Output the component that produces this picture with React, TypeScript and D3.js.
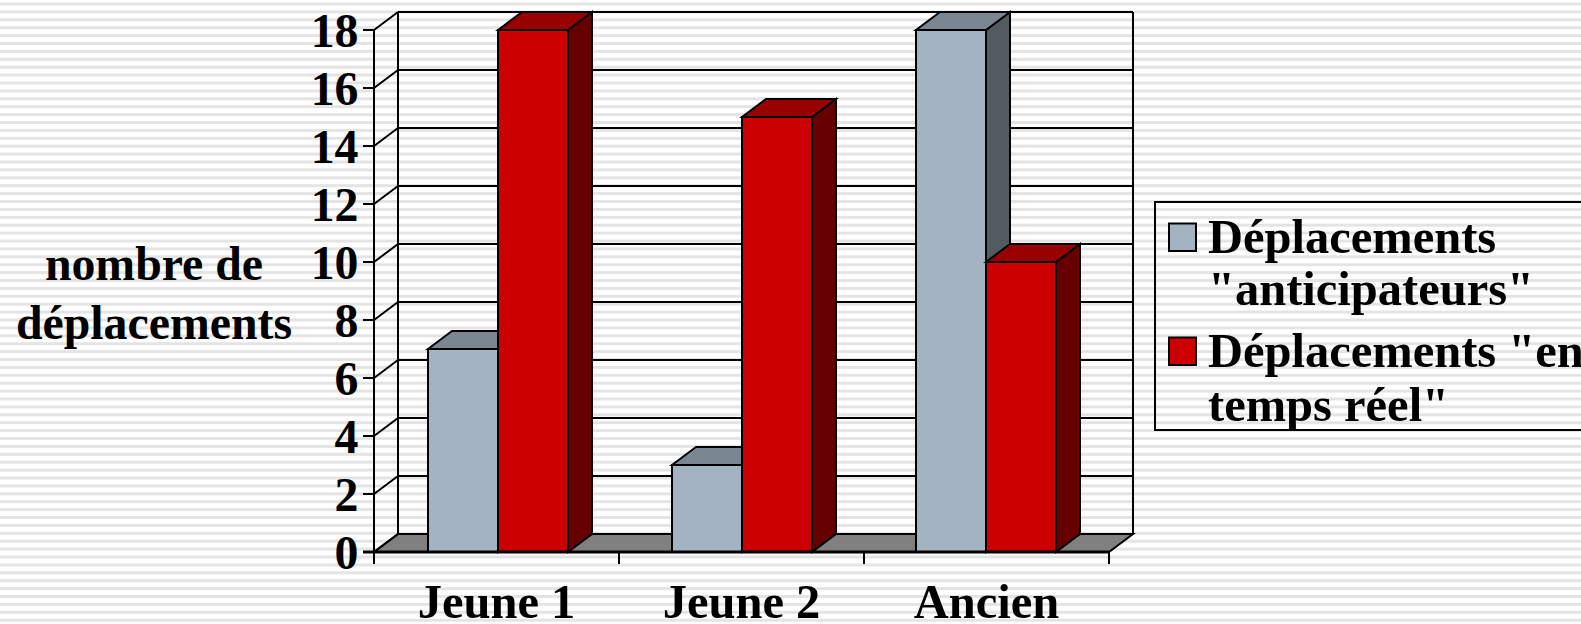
import React from "react";
import * as d3 from "d3";

const categories = ["Jeune 1", "Jeune 2", "Ancien"];
const seriesNames = ['Déplacements "anticipateurs"', 'Déplacements "en temps réel"'];
const anticipateurs = [7, 3, 18];
const tempsReel = [18, 15, 10];
const yTicks = [0, 2, 4, 6, 8, 10, 12, 14, 16, 18];
const yTitle = ["nombre de", "déplacements"];
const legendLines = [['Déplacements', '"anticipateurs"'], ['Déplacements "en', 'temps réel"']];
const palette = [
  { front: "#A3B3C2", top: "#7A8792", side: "#525A62" },
  { front: "#CC0000", top: "#990000", side: "#660000" },
];

const W = 1581, H = 624;
const DX = 24, DY = 18;
const FS = 48.5;
const FS_AXIS = 47.8;
const FONT = "'Liberation Serif', 'Times New Roman', serif";
const x0 = d3.scaleBand<string>().domain(categories).range([374, 1109]);
const xBars = d3.scalePoint<string>().domain(categories).range([428, 916]);
const y = d3.scaleLinear().domain([0, 18]).range([552, 30]);
const stroke = { stroke: "#000", strokeWidth: 2, strokeLinejoin: "miter" as const };

const stripes = d3.range(4, H, 7.9);
const poly = (p: [number, number][]) => p.map((q) => q.join(",")).join(" ");

function Bar({ x, w, v, c }: { x: number; w: number; v: number; c: typeof palette[0] }) {
  const t = y(v), b = y(0);
  return (
    <g {...stroke}>
      <polygon points={poly([[x + w, t], [x + w + DX, t - DY], [x + w + DX, b - DY], [x + w, b]])} fill={c.side} />
      <polygon points={poly([[x, t], [x + DX, t - DY], [x + w + DX, t - DY], [x + w, t]])} fill={c.top} />
      <rect x={x} y={t} width={w} height={b - t} fill={c.front} />
    </g>
  );
}

export default function App() {
  const [xL, xR] = x0.range();
  const step = x0.bandwidth();
  const barW = 70;
  const rows = categories.map((cat, i) => ({ cat, a: anticipateurs[i], r: tempsReel[i], x: xBars(cat)! }));
  const yBase = y(0);
  const legendY = [[252.5, 305], [367, 421]];
  return (
    <svg width={W} height={H} viewBox={`0 0 ${W} ${H}`} style={{ position: "absolute", left: 0, top: 0, background: "#fff" }} fontFamily={FONT}>
      {stripes.map((s) => (
        <rect key={s} x={0} y={s - 1.5} width={W} height={3} fill="#E4E4E4" />
      ))}
      <polygon points={poly([[xL, yBase], [xL + DX, yBase - DY], [xR + DX, yBase - DY], [xR, yBase]])} fill="#808080" {...stroke} />
      {yTicks.map((t) => (
        <g key={t} {...stroke}>
          <line x1={xL} y1={y(t)} x2={xL + DX} y2={y(t) - DY} />
          <line x1={xL + DX} y1={y(t) - DY} x2={xR + DX} y2={y(t) - DY} />
        </g>
      ))}
      <line x1={xL + DX} y1={y(18) - DY} x2={xL + DX} y2={yBase - DY} {...stroke} />
      <line x1={xR + DX} y1={y(18) - DY} x2={xR + DX} y2={yBase - DY} {...stroke} />
      {rows.map((r) => (
        <g key={r.cat}>
          <Bar x={r.x} w={barW} v={r.a} c={palette[0]} />
          <Bar x={r.x + barW} w={barW} v={r.r} c={palette[1]} />
        </g>
      ))}
      <line x1={xL} y1={y(18)} x2={xL} y2={yBase + 12} {...stroke} />
      <line x1={xL - 11} y1={yBase} x2={xR} y2={yBase} {...stroke} strokeWidth={3} />
      {yTicks.map((t) => (
        <line key={t} x1={xL - 11} y1={y(t)} x2={xL} y2={y(t)} {...stroke} />
      ))}
      {d3.range(0, categories.length + 1).map((i) => (
        <line key={i} x1={xL + i * step} y1={yBase} x2={xL + i * step} y2={yBase + 12} {...stroke} />
      ))}
      {yTicks.map((t) => (
        <text key={t} x={358.5} y={y(t) + 17} textAnchor="end" fontSize={FS_AXIS} fontWeight="bold" fill="#000">{t}</text>
      ))}
      {categories.map((c) => (
        <text key={c} x={x0(c)! + step / 2} y={618} textAnchor="middle" fontSize={FS} fontWeight="bold" fill="#000">{c}</text>
      ))}
      {yTitle.map((l, i) => (
        <text key={l} x={154} y={280 + i * 59} textAnchor="middle" fontSize={FS_AXIS} fontWeight="bold" fill="#000">{l}</text>
      ))}
      <rect x={1155} y={202} width={W} height={228} fill="none" {...stroke} />
      {seriesNames.map((n, i) => (
        <g key={n}>
          <rect x={1169} y={223.5 + i * 114} width={27} height={27.5} fill={palette[i].front} {...stroke} />
          {legendLines[i].map((l, j) => (
            <text key={l} x={1208} y={legendY[i][j]} fontSize={FS} fontWeight="bold" fill="#000">{l}</text>
          ))}
        </g>
      ))}
    </svg>
  );
}
